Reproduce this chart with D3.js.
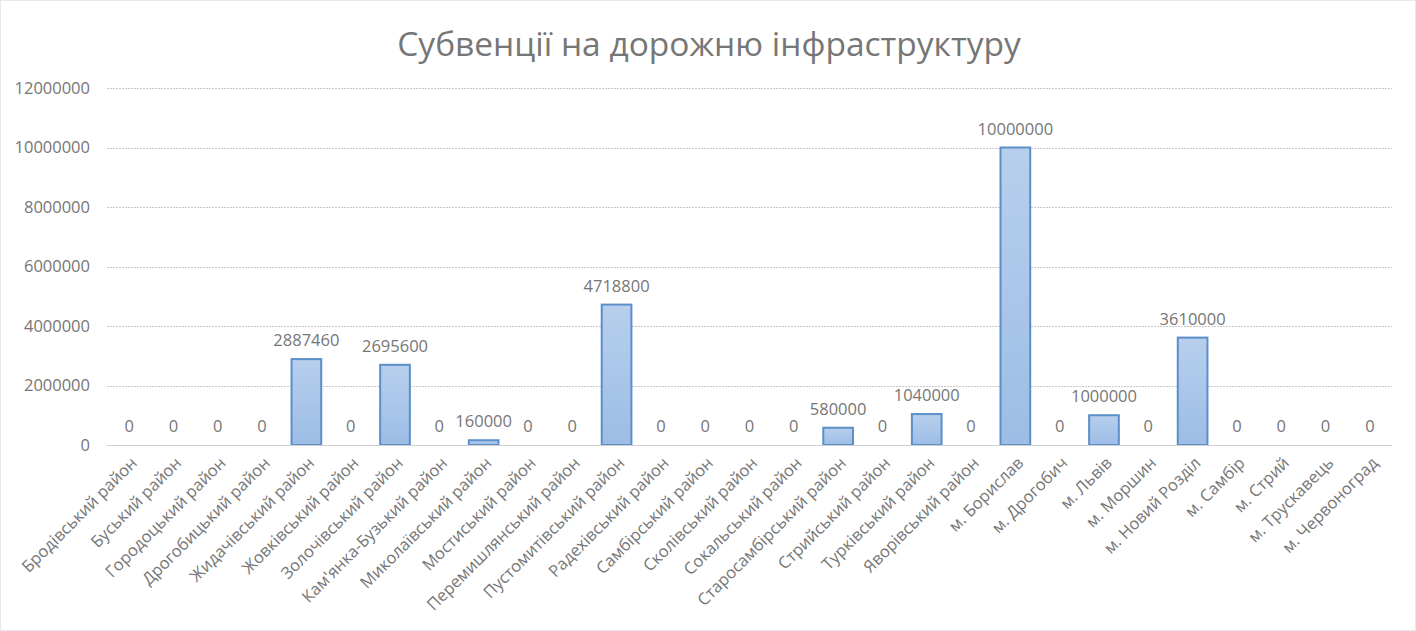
<!DOCTYPE html>
<html>
<head>
<meta charset="utf-8">
<script src="https://cdn.jsdelivr.net/npm/d3@7"></script>
<style>
  body { margin: 0; background: #fff; }
  svg { display: block; font-family: "Open Sans", "Noto Sans", sans-serif; }
</style>
</head>
<body>
<div id="chart"></div>
<script>
var categories = [
  "Бродівський район", "Буський район", "Городоцький район", "Дрогобицький район",
  "Жидачівський район", "Жовківський район", "Золочівський район", "Кам'янка-Бузький район",
  "Миколаївський район", "Мостиський район", "Перемишлянський район", "Пустомитівський район",
  "Радехівський район", "Самбірський район", "Сколівський район", "Сокальський район",
  "Старосамбірський район", "Стрийський район", "Турківський район", "Яворівський район",
  "м. Борислав", "м. Дрогобич", "м. Львів", "м. Моршин", "м. Новий Розділ",
  "м. Самбір", "м. Стрий", "м. Трускавець", "м. Червоноград"
];
var values = [
  0, 0, 0, 0, 2887460, 0, 2695600, 0, 160000, 0, 0, 4718800,
  0, 0, 0, 0, 580000, 0, 1040000, 0, 10000000, 0, 1000000, 0, 3610000,
  0, 0, 0, 0
];
var yTicks = [0, 2000000, 4000000, 6000000, 8000000, 10000000, 12000000];

var width = 1416;
var height = 631;
var margin = {top: 88, left: 107, right: 24, bottom: 186};
var textColor = "#767676";

var svg = d3.select("#chart")
  .append("svg")
  .attr("width", width)
  .attr("height", height);

var defs = svg.append("defs");
var grad = defs.append("linearGradient")
  .attr("id", "barFill")
  .attr("x1", 0).attr("y1", 0).attr("x2", 0).attr("y2", 1);
grad.append("stop").attr("offset", "0%").attr("stop-color", "#b7cfec");
grad.append("stop").attr("offset", "100%").attr("stop-color", "#9dbde6");

// chart border
svg.append("rect")
  .attr("x", 0.5).attr("y", 0.5)
  .attr("width", width - 1).attr("height", height - 1)
  .attr("fill", "none")
  .attr("stroke", "#d0d0d0")
  .attr("stroke-dasharray", "1,1");

var x = d3.scaleBand()
  .domain(categories)
  .range([margin.left, width - margin.right])
  .paddingInner(0.33)
  .paddingOuter(0.165);

var y = d3.scaleLinear()
  .domain([0, 12000000])
  .range([height - margin.bottom, margin.top]);

// title
svg.append("text")
  .attr("x", 709)
  .attr("y", 56)
  .attr("text-anchor", "middle")
  .attr("font-size", "33.5px")
  .attr("fill", textColor)
  .text("Субвенції на дорожню інфраструктуру");

// gridlines
svg.append("g")
  .selectAll("line")
  .data(yTicks.filter(function(d) { return d > 0; }))
  .join("line")
    .attr("x1", margin.left)
    .attr("x2", width - margin.right)
    .attr("y1", function(d) { return Math.round(y(d)) + 0.5; })
    .attr("y2", function(d) { return Math.round(y(d)) + 0.5; })
    .attr("stroke", "#c8c8c8")
    .attr("stroke-dasharray", "2,1");

// y axis labels
var yAxis = svg.append("g")
  .attr("transform", "translate(" + (margin.left - 14) + ",0)")
  .call(d3.axisLeft(y).tickValues(yTicks).tickSize(0).tickFormat(d3.format("d")));
yAxis.select(".domain").remove();
yAxis.selectAll("text")
  .attr("font-size", "16.5px")
  .attr("fill", textColor)
  .attr("font-family", "'Open Sans', 'Noto Sans', sans-serif");

// bars
svg.append("g")
  .selectAll("rect")
  .data(values)
  .join("rect")
    .filter(function(d) { return d > 0; })
    .attr("x", function(d) { return x(categories[values.indexOf(d)]); })
    .attr("y", function(d) { return y(d); })
    .attr("width", x.bandwidth())
    .attr("height", function(d) { return y(0) - y(d); })
    .attr("fill", "url(#barFill)")
    .attr("stroke", "#5b8fc9")
    .attr("stroke-width", 2);

// baseline
svg.append("line")
  .attr("x1", margin.left)
  .attr("x2", width - margin.right)
  .attr("y1", Math.round(y(0)) + 0.5)
  .attr("y2", Math.round(y(0)) + 0.5)
  .attr("stroke", "#cfcfcf");

// value labels
svg.append("g")
  .selectAll("text")
  .data(values)
  .join("text")
    .attr("x", function(d, i) { return x(categories[i]) + x.bandwidth() / 2; })
    .attr("y", function(d) { return y(d) - 13; })
    .attr("text-anchor", "middle")
    .attr("font-size", "16.5px")
    .attr("fill", textColor)
    .text(function(d) { return d; });

// category labels
var xAxis = svg.append("g")
  .attr("transform", "translate(0," + y(0) + ")")
  .call(d3.axisBottom(x).tickSize(0));
xAxis.select(".domain").remove();
xAxis.selectAll("text")
  .attr("font-size", "16.5px")
  .attr("fill", textColor)
  .attr("font-family", "'Open Sans', 'Noto Sans', sans-serif")
  .attr("text-anchor", "end")
  .attr("dy", null)
  .attr("y", 0)
  .attr("transform", "translate(9,19) rotate(-45)");
</script>
</body>
</html>
